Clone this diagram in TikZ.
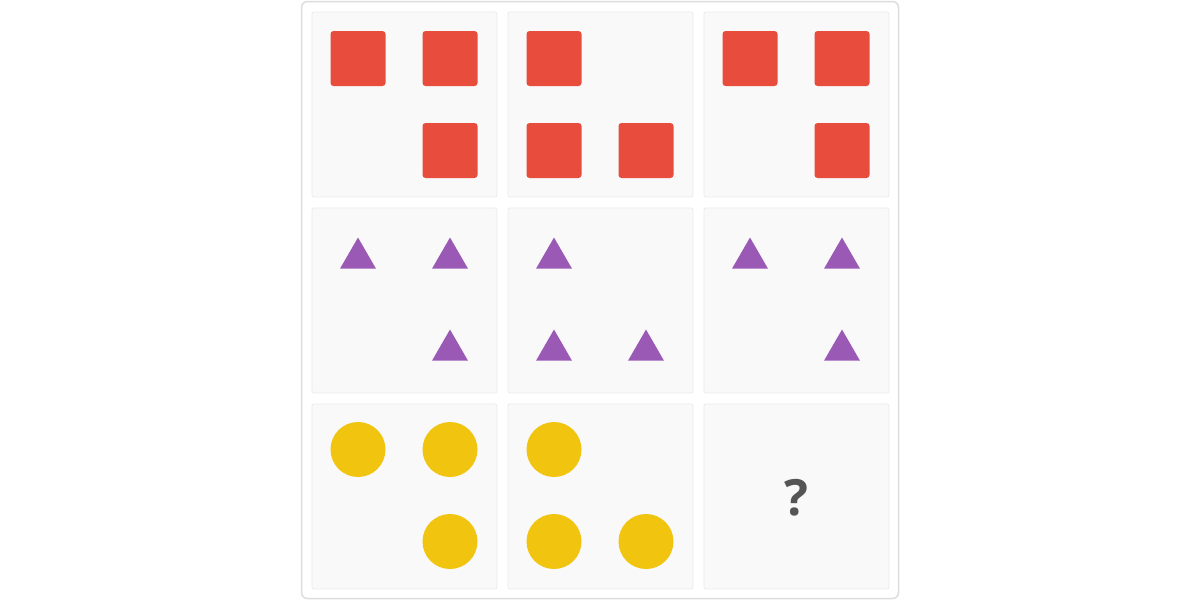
\documentclass[tikz,border=0pt]{standalone}
\usepackage{fontspec}
\setmainfont{Open Sans}
\usetikzlibrary{shapes.geometric}
\definecolor{sqred}{HTML}{E74C3C}
\definecolor{trpurple}{HTML}{9B59B6}
\definecolor{ciryellow}{HTML}{F1C40F}
\definecolor{cellfill}{HTML}{F9F9F9}
\definecolor{cellline}{HTML}{EBEBEB}
\definecolor{outerline}{HTML}{DDDDDD}
\definecolor{qgray}{HTML}{555555}
\tikzset{
  cellbox/.style={draw=cellline, fill=cellfill, line width=0.8pt, rounded corners=2pt, minimum width=185pt, minimum height=185pt, inner sep=0pt},
  sqshape/.style={fill=sqred, draw=none, rounded corners=3pt, minimum size=55pt, inner sep=0pt},
  trshape/.style={regular polygon, regular polygon sides=3, fill=trpurple, draw=none, minimum size=41.6pt, inner sep=0pt},
  cishape/.style={circle, fill=ciryellow, draw=none, minimum size=55pt, inner sep=0pt},
}
\begin{document}
\begin{tikzpicture}[x=1pt,y=-1pt]
\useasboundingbox (0,0) rectangle (1200,600);
\node[draw=outerline, fill=white, line width=1.5pt, rounded corners=6pt, minimum width=597pt, minimum height=597pt, inner sep=0pt] (outer) at (600,300) {};
% cells
\foreach \r/\cy in {1/104.5,2/300.5,3/496.5}{
  \foreach \c/\cx in {1/404.5,2/600.5,3/796.5}{
    \node[cellbox] (cell\r\c) at (\cx,\cy) {};
  }
}
% row 1: squares
\node[sqshape] (s11a) at (358,58.5) {};
\node[sqshape] (s11b) at (450,58.5) {};
\node[sqshape] (s11c) at (450,150.5) {};
\node[sqshape] (s12a) at (554,58.5) {};
\node[sqshape] (s12b) at (554,150.5) {};
\node[sqshape] (s12c) at (646,150.5) {};
\node[sqshape] (s13a) at (750,58.5) {};
\node[sqshape] (s13b) at (842,58.5) {};
\node[sqshape] (s13c) at (842,150.5) {};
% row 2: triangles
\node[trshape] (t21a) at (358,258.3) {};
\node[trshape] (t21b) at (450,258.3) {};
\node[trshape] (t21c) at (450,350.3) {};
\node[trshape] (t22a) at (554,258.3) {};
\node[trshape] (t22b) at (554,350.3) {};
\node[trshape] (t22c) at (646,350.3) {};
\node[trshape] (t23a) at (750,258.3) {};
\node[trshape] (t23b) at (842,258.3) {};
\node[trshape] (t23c) at (842,350.3) {};
% row 3: circles
\node[cishape] (c31a) at (358,449.5) {};
\node[cishape] (c31b) at (450,449.5) {};
\node[cishape] (c31c) at (450,541.5) {};
\node[cishape] (c32a) at (554,449.5) {};
\node[cishape] (c32b) at (554,541.5) {};
\node[cishape] (c32c) at (646,541.5) {};
\node[text=qgray, font=\fontsize{50}{60}\selectfont\bfseries, inner sep=0pt] (q) at (796,498) {?};
\end{tikzpicture}
\end{document}
